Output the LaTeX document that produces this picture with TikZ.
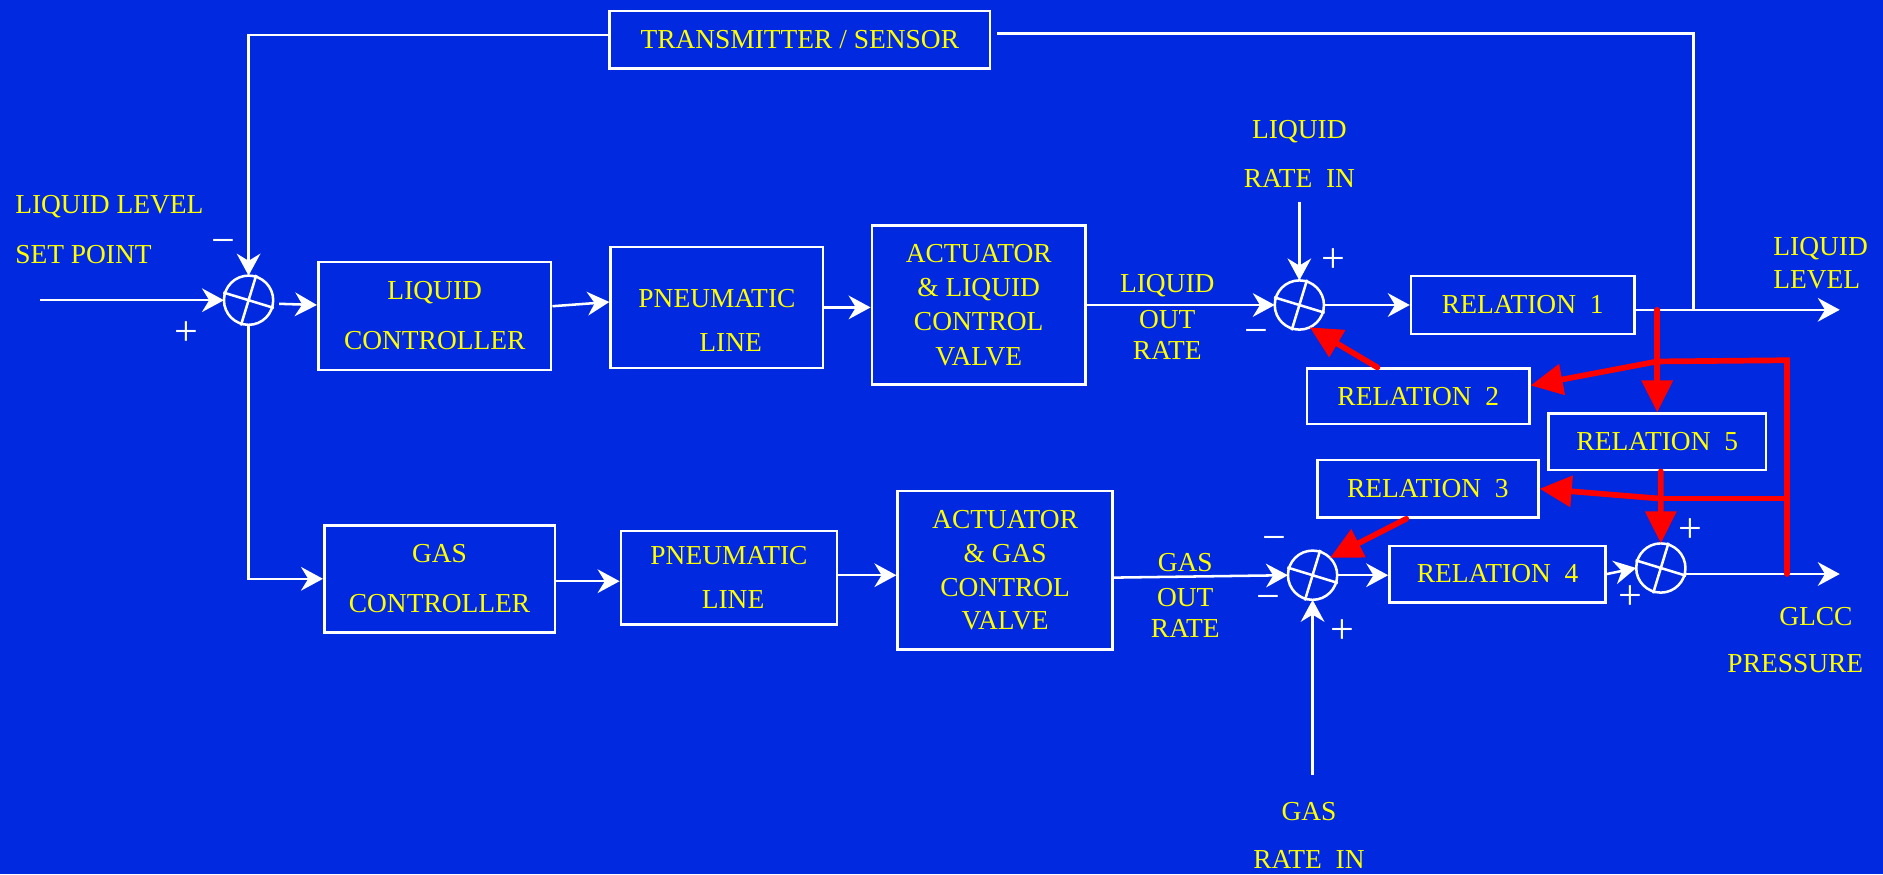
\documentclass[tikz,border=0pt]{standalone}
\usepackage{fontspec}
\setmainfont{Liberation Serif}
\usetikzlibrary{arrows.meta}
\definecolor{bgc}{HTML}{0029E0}
\definecolor{txtc}{HTML}{FFFF00}
\definecolor{redc}{HTML}{FF0000}
\newcommand{\fs}[1]{\fontsize{6.5}{#1}\selectfont}
\tikzset{
  >={Stealth[length=5.2pt,width=5.6pt,inset=1.7pt]},
  wline/.style={draw=white,line width=0.6pt},
  warr/.style={wline,->},
  rline/.style={draw=redc,line width=1.35pt,line cap=round},
  rarr/.style={rline,-{Triangle[length=7.6pt,width=7.2pt]}},
  blk/.style={wline,inner sep=1pt,align=center,text=txtc,font=\fs{8pt}},
  sumj/.style={wline,circle,minimum size=4.1mm,inner sep=0pt,outer sep=0pt},
  lbl/.style={text=txtc,font=\fs{8pt},align=center,inner sep=0pt},
  sgn/.style={text=white,font=\fontsize{10}{10}\selectfont,inner sep=0pt},
}
% summing junction: circle with a tilted cross
\newcommand{\sumx}[2]{%
  \node[sumj] (#1) at (#2) {};
  \draw[wline] (#1.center) ++(17:22) -- ++(197:44)
               (#1.center) ++(107:22) -- ++(287:44);}

\begin{document}
\begin{tikzpicture}[x=0.1mm,y=-0.1mm]
  \fill[bgc] (0,0) rectangle (1568,728);
  \useasboundingbox (0,0) rectangle (1568,728);
  % liquid loop
  \node[blk,minimum width=31.7mm,minimum height=4.8mm] (tsens) at (666,33) {TRANSMITTER / SENSOR};
  \sumx{sumA}{207,250}
  \node[blk,font=\fs{11.9pt},minimum width=19.4mm,minimum height=9mm] (lctrl) at (362,263) {LIQUID\\CONTROLLER};
  \node[blk,font=\fs{10.5pt},minimum width=17.7mm,minimum height=10.1mm] (pline1) at (597,256) {\rule{0pt}{10.5pt}PNEUMATIC\\\hspace*{1em}LINE};
  \node[blk,font=\fs{8.1pt},minimum width=17.8mm,minimum height=13.2mm] (lvalve) at (815,254) {ACTUATOR\\\& LIQUID\\CONTROL\\VALVE};
  \sumx{sumB}{1082,254}
  \node[blk,minimum width=18.6mm,minimum height=4.8mm] (rel1) at (1268,254) {RELATION~~1};
  \node[blk,minimum width=18.5mm,minimum height=4.6mm] (rel2) at (1181,330) {RELATION~~2};
  \node[blk,minimum width=18.1mm,minimum height=4.7mm] (rel5) at (1380,368) {RELATION~~5};
  \node[blk,minimum width=18.4mm,minimum height=4.8mm] (rel3) at (1189,407) {RELATION~~3};
  % gas loop
  \node[blk,font=\fs{11.9pt},minimum width=19.2mm,minimum height=8.9mm] (gctrl) at (366,482) {GAS\\CONTROLLER};
  \node[blk,font=\fs{10.5pt},minimum width=18mm,minimum height=7.8mm] (pline2) at (607,481) {PNEUMATIC\\\hspace*{0.3em}LINE};
  \node[blk,font=\fs{8pt},minimum width=17.9mm,minimum height=13.2mm] (gvalve) at (837,475) {ACTUATOR\\\& GAS\\CONTROL\\VALVE};
  \sumx{sumC}{1093,479}
  \node[blk,minimum width=18mm,minimum height=4.7mm] (rel4) at (1247,478) {RELATION~~4};
  \sumx{sumD}{1383,473}

  % labels
  \node[lbl,font=\fs{11.9pt},align=left,anchor=west] (spLbl) at (12,191) {LIQUID LEVEL\\SET POINT};
  \node[lbl,font=\fs{11.7pt}] (lrLbl) at (1082,128) {LIQUID\\RATE~~IN};
  \node[lbl,font=\fs{7.4pt}] (loLbl) at (972,264) {LIQUID\\[1.1pt]OUT\\RATE};
  \node[lbl,font=\fs{7.7pt},align=left,anchor=west] (llLbl) at (1476,219) {LIQUID\\LEVEL};
  \node[lbl,font=\fs{7.4pt}] (goLbl) at (987,496) {GAS\\[0.8pt]OUT\\RATE};
  \node[lbl,font=\fs{11.1pt}] (glccLbl) at (1495,533) {\hspace*{1.5em}GLCC\\PRESSURE};
  \node[lbl,font=\fs{11.4pt}] (grLbl) at (1090,696) {GAS\\RATE~~IN};

  % signs
  \node[sgn] (sA1) at (186,206) {−};
  \node[sgn] (sA2) at (155,278) {+};
  \node[sgn] (sB1) at (1110,217) {+};
  \node[sgn] (sB2) at (1046,281) {−};
  \node[sgn] (sC1) at (1061,453) {−};
  \node[sgn] (sC2) at (1056,502) {−};
  \node[sgn] (sC3) at (1118,526) {+};
  \node[sgn] (sD1) at (1408,442) {+};
  \node[sgn] (sD2) at (1358,498) {+};

  % white connectors
  \coordinate (spIn) at (33,250);
  \coordinate (lrIn) at (1082,168);
  \coordinate (grIn) at (1093,645);
  \coordinate (fbTap) at (1410,258);
  \coordinate (lvlOut) at (1532,258);
  \coordinate (glccOut) at (1532,478);
  \draw[warr] (spIn) -- (sumA.west);
  \draw[warr] ([yshift=0.4mm]tsens.west) -| (sumA.north);
  \draw[wline] (fbTap) |- ([xshift=0.5mm,yshift=0.5mm]tsens.east);
  \draw[warr] ([xshift=0.5mm,yshift=-0.3mm]sumA.east) -- ([yshift=0.9mm]lctrl.west);
  \draw[warr] ([yshift=0.8mm]lctrl.east) -- ([yshift=0.45mm]pline1.west);
  \draw[warr] (pline1.east) -- (pline1.east -| lvalve.west);
  \draw[warr] (lvalve.east) -- (sumB.west);
  \draw[warr] (lrIn) -- (sumB.north);
  \draw[warr] (sumB.east) -- (rel1.west);
  \draw[warr] (rel1.east |- lvlOut) -- (lvlOut);
  \draw[warr] (sumA.south) |- (gctrl.west);
  \draw[warr] ([yshift=-0.2mm]gctrl.east) -- ([yshift=-0.2mm]gctrl.east -| pline2.west);
  \draw[warr] ([yshift=0.2mm]pline2.east) -- ([yshift=0.2mm]pline2.east -| gvalve.west);
  \draw[warr] ([yshift=-0.6mm]gvalve.east) -- (sumC.west);
  \draw[warr] (grIn) -- (sumC.south);
  \draw[warr] (sumC.east) -- (sumC.east -| rel4.west);
  \draw[warr] (rel4.east) -- (sumD.west);
  \draw[warr] (sumD.east |- glccOut) -- (glccOut);

  % red connectors
  \coordinate (rTap) at (1380,258);
  \coordinate (gTap) at (1488,478);
  \coordinate (rCorner) at (1488,300);
  \coordinate (rKnee2) at (1380,301);
  \coordinate (rKnee3) at (1380,415);
  \draw[rarr] (rTap) -- (rel5.north);
  \draw[rline] (gTap) -- (rCorner) -- (rKnee2);
  \draw[rarr] (rKnee2) -- ([yshift=0.9mm]rel2.east);
  \draw[rline] (rCorner |- rKnee3) -- (rKnee3);
  \draw[rarr] (rKnee3) -- (rel3.east);
  \draw[rarr] ([xshift=-3.4mm]rel2.north) -- (sumB.-65);
  \draw[rarr] ([xshift=-1.8mm]rel3.south) -- (sumC.45);
  \draw[rarr] ([xshift=0.3mm]rel5.south) -- (sumD.north);
\end{tikzpicture}
\end{document}
